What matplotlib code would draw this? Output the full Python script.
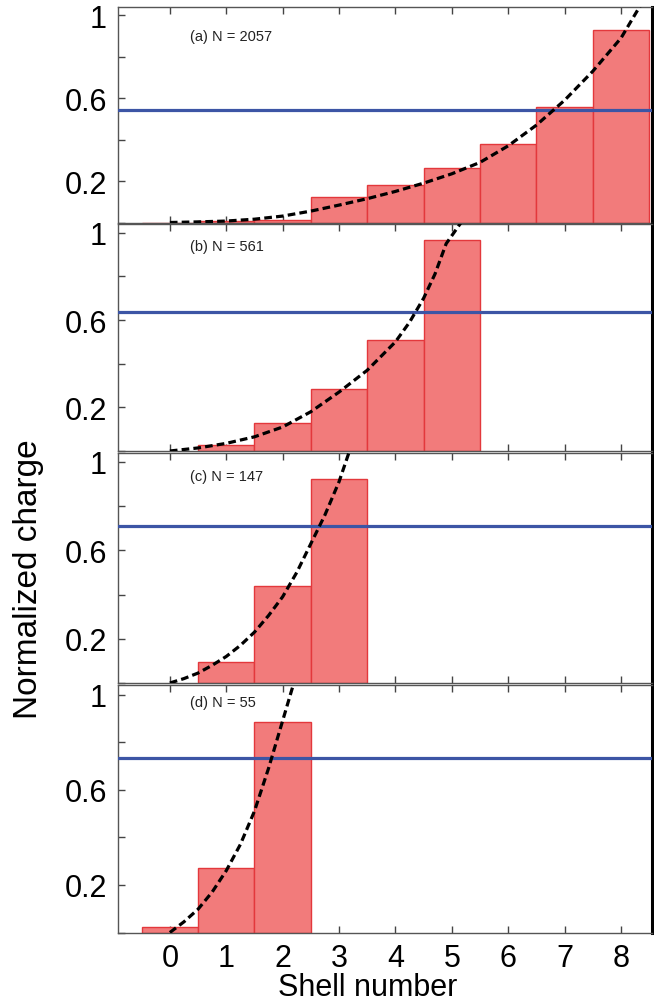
import numpy as np
import matplotlib
matplotlib.use("Agg")
import matplotlib.pyplot as plt

plt.rcParams['font.family'] = ['Liberation Sans', 'DejaVu Sans']

# bar data, one set per panel (shell number, normalized charge)
shells_a = [0, 1, 2, 3, 4, 5, 6, 7, 8]
charge_a = [0.0, 0.005, 0.013, 0.121, 0.183, 0.264, 0.377, 0.555, 0.927]
shells_b = [1, 2, 3, 4, 5]
charge_b = [0.026, 0.126, 0.283, 0.51, 0.968]
shells_c = [1, 2, 3]
charge_c = [0.094, 0.44, 0.921]
shells_d = [0, 1, 2]
charge_d = [0.025, 0.273, 0.884]

# horizontal (blue) levels
level_a = 0.542
level_b = 0.637
level_c = 0.712
level_d = 0.733

# dashed fit curves
fit_x_a = [0, 0.5, 1, 1.5, 2, 2.5, 3, 3.5, 4, 4.5, 5, 5.5, 6, 6.5, 7, 7.5, 8, 8.35]
fit_y_a = [0, 0.003, 0.007, 0.016, 0.031, 0.055, 0.084, 0.115, 0.15, 0.19, 0.235, 0.29, 0.37, 0.47, 0.59, 0.73, 0.89, 1.05]
fit_x_b = [0, 0.5, 1, 1.5, 2, 2.5, 3, 3.5, 4, 4.25, 4.5, 4.7, 4.9, 5.2]
fit_y_b = [0, 0.014, 0.035, 0.065, 0.11, 0.18, 0.27, 0.37, 0.5, 0.59, 0.7, 0.81, 0.95, 1.06]
fit_x_c = [0, 0.25, 0.5, 0.75, 1, 1.25, 1.5, 1.75, 2, 2.25, 2.5, 2.75, 3, 3.2]
fit_y_c = [0, 0.02, 0.045, 0.08, 0.12, 0.17, 0.23, 0.305, 0.39, 0.5, 0.63, 0.76, 0.91, 1.06]
fit_x_d = [0, 0.25, 0.5, 0.75, 1, 1.25, 1.5, 1.75, 2, 2.2]
fit_y_d = [0, 0.045, 0.098, 0.17, 0.26, 0.37, 0.51, 0.69, 0.89, 1.05]

labels = ['(a) N = 2057', '(b) N = 561', '(c) N = 147', '(d) N = 55']
xticks = [0, 1, 2, 3, 4, 5, 6, 7, 8]

panels = [
    (shells_a, charge_a, level_a, fit_x_a, fit_y_a),
    (shells_b, charge_b, level_b, fit_x_b, fit_y_b),
    (shells_c, charge_c, level_c, fit_x_c, fit_y_c),
    (shells_d, charge_d, level_d, fit_x_d, fit_y_d),
]

W, H = 654, 1004
fig = plt.figure(figsize=(W / 100, H / 100), dpi=100)

# panel extents in pixels (top, bottom)
extents = [(8, 223.5), (225, 452), (454, 684), (686, 933.5)]
left_px, right_px = 118, 652

bar_face = '#F27B7B'
bar_edge = '#E3383C'
blue = '#3C55A5'

for i, ((sx, sy, lev, fx, fy), (top, bot)) in enumerate(zip(panels, extents)):
    ax = fig.add_axes([left_px / W, 1 - bot / H, (right_px - left_px) / W, (bot - top) / H])
    ax.bar(sx, sy, width=1.0, color=bar_face, edgecolor=bar_edge, linewidth=1.0, zorder=2)
    ax.axhline(lev, color=blue, lw=2.3, zorder=3)
    ax.plot(fx, fy, color='black', lw=2.3, dashes=(2.4, 1.3), zorder=4)
    ax.set_xlim(-0.92, 8.55)
    ax.set_ylim(0, 1.04)
    ax.set_yticks([0.2, 0.6, 1.0])
    ax.set_yticklabels(['0.2', '0.6', '1'])
    ax.set_yticks([0, 0.4, 0.8], minor=True)
    ax.set_xticks(xticks)
    ax.tick_params(axis='both', which='both', direction='in', length=5, width=1,
                   color='#444444', labelsize=22, top=True)
    ax.tick_params(axis='y', which='major', pad=8)
    ax.tick_params(axis='x', which='major', pad=7.5)
    ax.text(0.135, [0.865, 0.905, 0.9, 0.93][i], labels[i], transform=ax.transAxes,
            fontsize=10.5, va='center', ha='left', color='#222222')
    for s in ['left', 'top', 'bottom']:
        ax.spines[s].set_color('#555555')
        ax.spines[s].set_linewidth(1.0)
    ax.spines['right'].set_color('black')
    ax.spines['right'].set_linewidth(2.2)
    if i < 3:
        ax.tick_params(axis='x', labelbottom=False)

fig.text(368 / W, 1 - 996 / H, 'Shell number', fontsize=22, ha='center', va='baseline')
fig.text(29 / W, 1 - 579 / H, 'Normalized charge', rotation=90, fontsize=24,
         ha='center', va='center')

fig.savefig('out.png', dpi=100)
